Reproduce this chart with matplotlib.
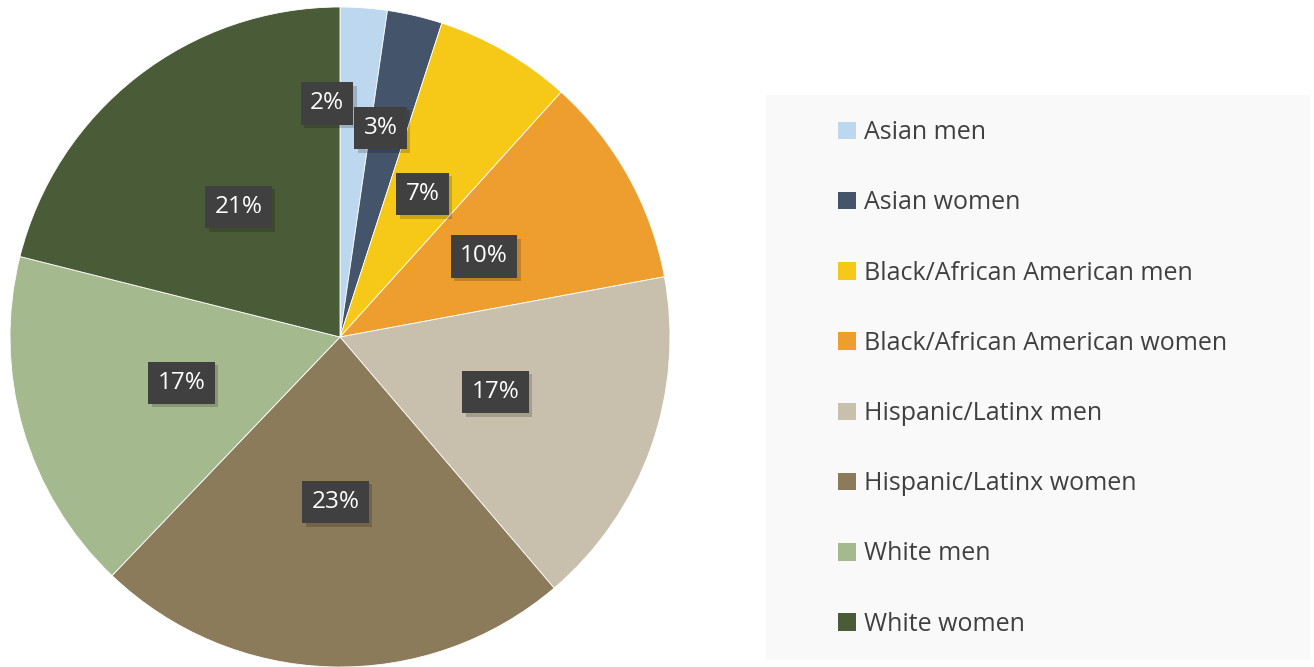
import numpy as np
import matplotlib
matplotlib.use("Agg")
import matplotlib.pyplot as plt
import matplotlib.patheffects as pe
from matplotlib.patches import Patch, Rectangle

categories = [
    "Asian men",
    "Asian women",
    "Black/African American men",
    "Black/African American women",
    "Hispanic/Latinx men",
    "Hispanic/Latinx women",
    "White men",
    "White women",
]
shares = [2.3, 2.7, 6.7, 10.4, 16.7, 23.4, 16.8, 21.1]
pct_labels = ["2%", "3%", "7%", "10%", "17%", "23%", "17%", "21%"]

colors = ["#BDD7EE", "#44546A", "#F6C918", "#ED9E2F",
          "#C9BFAD", "#8C7B5A", "#A5B98E", "#4A5C37"]
# radial position of each data label (fraction of radius) and small nudges
label_r  = [0.71, 0.65, 0.5, 0.5, 0.5, 0.5, 0.5, 0.5]
label_dx = [-0.09, -0.025, 0.0, 0.0, 0.0, 0.0, 0.0, 0.0]

plt.rcParams["font.family"] = ["Open Sans", "DejaVu Sans"]

fig = plt.figure(figsize=(13.14, 6.67), dpi=100)
ax = fig.add_axes([10 / 1314, 0, 660 / 1314, 660 / 667])

wedges, _ = ax.pie(
    shares, colors=colors, startangle=90, counterclock=False,
    radius=1.0, wedgeprops=dict(edgecolor="white", linewidth=0.6),
)
ax.set_xlim(-1, 1)
ax.set_ylim(-1, 1)
ax.set_aspect("equal")

for w, lab, r, dx in zip(wedges, pct_labels, label_r, label_dx):
    mid = np.deg2rad((w.theta1 + w.theta2) / 2)
    x, y = r * np.cos(mid) + dx, r * np.sin(mid)
    t = ax.text(x, y, lab, ha="center", va="center", color="white",
                fontsize=17.5,
                bbox=dict(boxstyle="square,pad=0.38", fc="#404040", ec="none"))
    t.get_bbox_patch().set_path_effects(
        [pe.SimplePatchShadow(offset=(2.5, -2.5), shadow_rgbFace="black", alpha=0.18),
         pe.Normal()])

# legend panel
fig.patches.append(Rectangle((766 / 1314, 7 / 667), 544 / 1314, 565 / 667,
                             transform=fig.transFigure, fc="#F9F9F9",
                             ec="none", zorder=0))
handles = [Patch(facecolor=c, edgecolor="none") for c in colors]
fig.legend(handles, categories, loc="upper left",
           bbox_to_anchor=(838 / 1314, 1 - 120 / 667),
           frameon=False, fontsize=18, labelcolor="#404040",
           handlelength=0.7, handleheight=0.7, handletextpad=0.35,
           labelspacing=1.81, borderaxespad=0, borderpad=0)

fig.savefig("out.png", dpi=100)
